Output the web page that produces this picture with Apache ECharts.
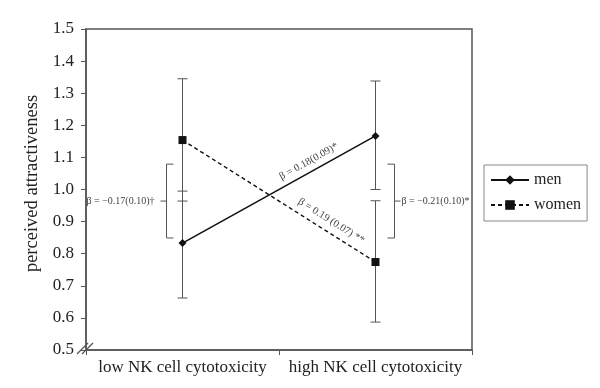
<!DOCTYPE html>
<html><head><meta charset="utf-8">
<script src="https://cdn.jsdelivr.net/npm/echarts@6/dist/echarts.min.js"></script>
<style>html,body{margin:0;padding:0;background:#fff}#c{width:600px;height:388px}</style>
</head><body><div id="c"></div>
<script>
const categories = ['low NK cell cytotoxicity', 'high NK cell cytotoxicity'];
const yTicks = {min: 0.5, max: 1.5, step: 0.1};
const menMean = [0.833, 1.167];
const menLower = [0.662, 1.0];
const menUpper = [0.995, 1.338];
const womenMean = [1.154, 0.774];
const womenLower = [0.964, 0.587];
const womenUpper = [1.345, 0.965];
const bracketRange = [0.849, 1.079];
const bracketLabels = ['\u03B2 = \u22120.17(0.10)\u2020', '\u03B2 = \u22120.21(0.10)*'];
const lineLabels = ['\u03B2 = 0.18(0.09)*', '\u03B2 = 0.19 (0.07) **'];

const FONT = '"Liberation Serif", "DejaVu Serif", serif';
const GRID = {left: 86, top: 29, width: 386, bottom: 38};
const chart = echarts.init(document.getElementById('c'));

function errData(lo, hi) { return lo.map((v, i) => [i, v, hi[i]]); }

const errSeries = (name, lo, hi) => ({
  type: 'custom', name: name + '_err', silent: true, z: 1,
  data: errData(lo, hi),
  renderItem: function (params, api) {
    const x = api.value(0);
    const p1 = api.coord([x, api.value(1)]);
    const p2 = api.coord([x, api.value(2)]);
    const w = 5;
    const st = {stroke: '#555', lineWidth: 1};
    return {type: 'group', children: [
      {type: 'line', shape: {x1: p1[0], y1: p1[1], x2: p2[0], y2: p2[1]}, style: st},
      {type: 'line', shape: {x1: p1[0] - w, y1: p1[1], x2: p1[0] + w, y2: p1[1]}, style: st},
      {type: 'line', shape: {x1: p2[0] - w, y1: p2[1], x2: p2[0] + w, y2: p2[1]}, style: st}
    ]};
  }
});

const bracketSeries = {
  type: 'custom', name: 'brackets', silent: true, z: 1,
  data: [[0, bracketRange[0], bracketRange[1]], [1, bracketRange[0], bracketRange[1]]],
  renderItem: function (params, api) {
    const x = api.value(0);
    const p1 = api.coord([x, api.value(1)]);
    const p2 = api.coord([x, api.value(2)]);
    const dir = x === 0 ? -1 : 1;
    const bx = p1[0] + dir * (x === 0 ? 16 : 19);
    const arm = 7;
    const mid = (p1[1] + p2[1]) / 2;
    const st = {stroke: '#555', lineWidth: 1, fill: null};
    const label = bracketLabels[x];
    return {type: 'group', children: [
      {type: 'polyline', shape: {points: [[bx - dir * arm, p2[1]], [bx, p2[1]], [bx, p1[1]], [bx - dir * arm, p1[1]]]}, style: st},
      {type: 'line', shape: {x1: bx, y1: mid, x2: bx + dir * 6, y2: mid}, style: st},
      {type: 'text', style: {text: label, x: bx + dir * (x === 0 ? 12 : 7), y: mid, align: dir < 0 ? 'right' : 'left', verticalAlign: 'middle', font: '10px ' + FONT, fill: '#444'}}
    ]};
  }
};

const option = {
  animation: false,
  backgroundColor: '#fff',
  grid: Object.assign({show: true, borderColor: '#555', borderWidth: 1.5, backgroundColor: 'transparent'}, GRID),
  legend: {
    orient: 'vertical', left: 484, top: 165,
    data: ['men', 'women'],
    borderColor: '#888', borderWidth: 1, padding: [7, 6, 8, 6],
    itemGap: 9, itemWidth: 38, itemHeight: 12,
    textStyle: {fontFamily: FONT, fontSize: 16, color: '#222'}
  },
  xAxis: {
    type: 'category', data: categories,
    axisLine: {lineStyle: {color: '#555', width: 1.5}},
    axisTick: {show: true, length: 5, lineStyle: {color: '#555'}},
    axisLabel: {fontFamily: FONT, fontSize: 17, color: '#222', margin: 9, interval: 0},
    splitLine: {show: false}
  },
  yAxis: {
    type: 'value', min: yTicks.min, max: yTicks.max, interval: yTicks.step,
    name: 'perceived attractiveness', nameLocation: 'middle', nameGap: 44,
    nameTextStyle: {fontFamily: FONT, fontSize: 18.5, color: '#222', padding: [0, 0, 0, 12]},
    axisLine: {show: true, lineStyle: {color: '#555', width: 1.5}},
    axisTick: {show: true, length: 5, lineStyle: {color: '#555'}},
    axisLabel: {fontFamily: FONT, fontSize: 17, color: '#222', margin: 12, formatter: v => v.toFixed(1)},
    splitLine: {show: false}
  },
  series: [
    errSeries('men', menLower, menUpper),
    errSeries('women', womenLower, womenUpper),
    bracketSeries,
    {name: 'men', type: 'line', data: menMean, symbol: 'diamond', symbolSize: 8, z: 3,
     lineStyle: {color: '#111', width: 1.6, type: 'solid'}, itemStyle: {color: '#111'}},
    {name: 'women', type: 'line', data: womenMean, symbol: 'rect', symbolSize: 8, z: 3,
     lineStyle: {color: '#111', width: 1.4, type: [4, 3]}, itemStyle: {color: '#111'}}
  ]
};
chart.setOption(option);

function lineLabel(means, text, t, offset) {
  const a = chart.convertToPixel({gridIndex: 0}, [0, means[0]]);
  const b = chart.convertToPixel({gridIndex: 0}, [1, means[1]]);
  const ang = Math.atan2(b[1] - a[1], b[0] - a[0]);
  const px = a[0] + (b[0] - a[0]) * t, py = a[1] + (b[1] - a[1]) * t;
  const nx = Math.sin(ang), ny = -Math.cos(ang);
  return {type: 'text', x: px + nx * offset, y: py + ny * offset, rotation: -ang,
    style: {text: text, align: 'center', verticalAlign: 'middle', font: '10.5px ' + FONT, fill: '#444'}, z: 10};
}
const yb = chart.convertToPixel({yAxisIndex: 0}, yTicks.min);
const xl = GRID.left;
chart.setOption({graphic: [
  lineLabel(menMean, lineLabels[0], 0.68, 10),
  lineLabel(womenMean, lineLabels[1], 0.74, 11),
  {type: 'line', shape: {x1: xl - 9, y1: yb + 4, x2: xl + 2, y2: yb - 7}, style: {stroke: '#555', lineWidth: 1.2}, z: 10},
  {type: 'line', shape: {x1: xl - 4, y1: yb + 4, x2: xl + 7, y2: yb - 7}, style: {stroke: '#555', lineWidth: 1.2}, z: 10}
]});
</script></body></html>
